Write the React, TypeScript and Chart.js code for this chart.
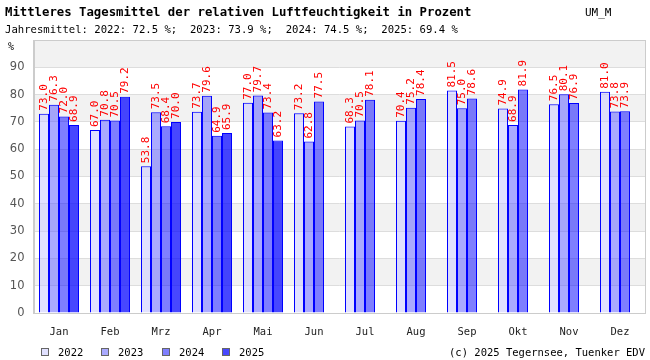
import React, { useEffect, useRef } from "react";
import { Chart, registerables } from "chart.js";

Chart.register(...registerables);

const titleText = "Mittleres Tagesmittel der relativen Luftfeuchtigkeit in Prozent";
const codeText = "UM_M";
const copyrightText = "(c) 2025 Tegernsee, Tuenker EDV";
const unitLabel = "%";

const months = ["Jan", "Feb", "Mrz", "Apr", "Mai", "Jun", "Jul", "Aug", "Sep", "Okt", "Nov", "Dez"];
const years = ["2022", "2023", "2024", "2025"];
const yearMeans = [72.5, 73.9, 74.5, 69.4];

const v2022 = [73.0, 67.0, 53.8, 73.7, 77.0, 73.2, 68.3, 70.4, 81.5, 74.9, 76.5, 81.0];
const v2023 = [76.3, 70.8, 73.5, 79.6, 79.7, 62.8, 70.5, 75.2, 75.0, 68.9, 80.1, 73.8];
const v2024 = [72.0, 70.5, 68.4, 64.9, 73.4, 77.5, 78.1, 78.4, 78.6, 81.9, 76.9, 73.9];
const v2025 = [68.9, 79.2, 70.0, 65.9, 63.2, null, null, null, null, null, null, null];

const yMin = 0;
const yMax = 100;
const yStep = 10;

const fills = [
  "rgba(195,195,255,0.5)",
  "rgba(85,85,255,0.5)",
  "rgba(0,0,255,0.5)",
  "rgba(0,0,255,0.72)",
];

const MONO = "'DejaVu Sans Mono', monospace";

const decorPlugin = {
  id: "decor",
  beforeDraw(chart: any) {
    const { ctx, chartArea } = chart;
    const y = chart.scales.y;
    ctx.save();
    ctx.fillStyle = "#ffffff";
    ctx.fillRect(0, 0, chart.width, chart.height);
    ctx.fillStyle = "#f2f2f2";
    for (let v = yMin; v < yMax; v += yStep) {
      const idx = Math.round(v / yStep);
      if (idx % 2 === 1) {
        const top = y.getPixelForValue(v + yStep);
        const bot = y.getPixelForValue(v);
        ctx.fillRect(chartArea.left, top, chartArea.right - chartArea.left, bot - top);
      }
    }
    ctx.restore();
  },
  afterDatasetsDraw(chart: any) {
    const { ctx } = chart;
    ctx.save();
    ctx.fillStyle = "#ff0000";
    ctx.font = `11px ${MONO}`;
    ctx.textAlign = "left";
    ctx.textBaseline = "middle";
    chart.data.datasets.forEach((ds: any, i: number) => {
      const meta = chart.getDatasetMeta(i);
      meta.data.forEach((el: any, j: number) => {
        const val = ds.data[j];
        if (val === null || val === undefined) return;
        ctx.save();
        ctx.translate(el.x, el.y - 3);
        ctx.rotate(-Math.PI / 2);
        ctx.fillText(Number(val).toFixed(1), 0, 0);
        ctx.restore();
      });
    });
    ctx.restore();
  },
  afterDraw(chart: any) {
    const { ctx, chartArea } = chart;
    ctx.save();
    ctx.strokeStyle = "#cccccc";
    ctx.lineWidth = 1;
    const l = Math.round(chartArea.left) + 0.5;
    const r = Math.round(chartArea.right) - 0.5;
    const t = Math.round(chartArea.top) + 0.5;
    const b = Math.round(chartArea.bottom) + 0.5;
    ctx.strokeRect(l, t, r - l, b - t);
    ctx.fillStyle = "#000000";
    ctx.textBaseline = "alphabetic";
    ctx.textAlign = "left";
    ctx.font = `bold 12.3px ${MONO}`;
    ctx.fillText(titleText, 5, 16);
    ctx.font = `11px ${MONO}`;
    ctx.fillText(codeText, 585, 16);
    const sub =
      "Jahresmittel: " +
      years.map((yr, i) => `${yr}: ${yearMeans[i].toFixed(1)} %;`).join("  ").replace(/;$/, "");
    ctx.font = `10.6px ${MONO}`;
    ctx.fillText(sub, 5, 33);
    ctx.font = `10px ${MONO}`;
    ctx.fillText(unitLabel, 8, 50);
    const lx = [41, 101, 162, 222];
    ctx.font = `10.5px ${MONO}`;
    years.forEach((yr, i) => {
      ctx.fillStyle = "#ffffff";
      ctx.fillRect(lx[i], 348, 8, 8);
      ctx.fillStyle = fills[i];
      ctx.fillRect(lx[i], 348, 8, 8);
      ctx.strokeStyle = "#666666";
      ctx.strokeRect(lx[i] + 0.5, 348.5, 7, 7);
      ctx.fillStyle = "#000000";
      ctx.fillText(yr, lx[i] + 17, 356);
    });
    ctx.textAlign = "right";
    ctx.fillText(copyrightText, 645, 356);
    ctx.restore();
  },
};

export default function App() {
  const ref = useRef<HTMLCanvasElement | null>(null);
  useEffect(() => {
    if (!ref.current) return;
    const datasets = [v2022, v2023, v2024, v2025].map((d, i) => ({
      label: years[i],
      data: d,
      backgroundColor: fills[i],
      borderColor: "#0000ff",
      borderWidth: 1,
      borderSkipped: "start" as const,
      inflateAmount: 0,
      categoryPercentage: 40 / 51,
      barPercentage: 1.0,
    }));
    const chart = new Chart(ref.current, {
      type: "bar",
      data: { labels: months, datasets },
      plugins: [decorPlugin],
      options: {
        responsive: false,
        animation: false,
        layout: { padding: { top: 40, right: 4.5, left: 0, bottom: 0 } },
        plugins: {
          legend: { display: false },
          title: { display: false },
          tooltip: { enabled: false },
        },
        scales: {
          x: {
            grid: { display: false, drawTicks: false },
            border: { display: true, color: "#cccccc" },
            ticks: {
              font: { family: MONO, size: 10.5 },
              color: "#222222",
              padding: 13,
              maxRotation: 0,
              autoSkip: false,
            },
            afterFit(scale: any) {
              scale.height = 47;
            },
          },
          y: {
            min: yMin,
            max: yMax,
            grid: { color: "#dddddd", drawTicks: false },
            border: { display: true, color: "#cccccc" },
            ticks: {
              stepSize: yStep,
              padding: 9,
              color: "#555555",
              font: { family: "'DejaVu Sans', sans-serif", size: 11.5 },
              callback: (v: any) => (v === yMax ? "" : String(v)),
            },
            afterFit(scale: any) {
              scale.width = 33.5;
            },
          },
        },
      },
    });
    return () => chart.destroy();
  }, []);
  return (
    <div style={{ position: "fixed", left: 0, top: 0, width: 650, height: 360, background: "#fff" }}>
      <canvas ref={ref} width={650} height={360} style={{ width: 650, height: 360, display: "block" }} />
    </div>
  );
}
